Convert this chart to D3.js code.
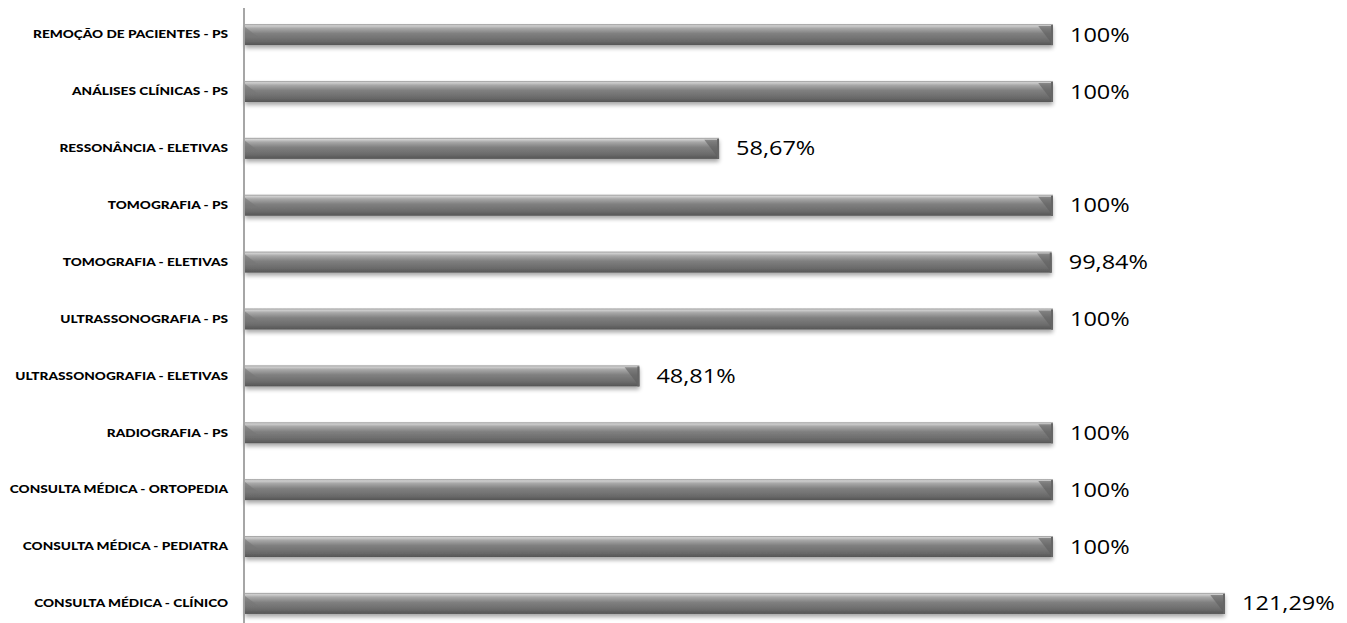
<!DOCTYPE html>
<html><head><meta charset="utf-8">
<script src="https://cdn.jsdelivr.net/npm/d3@7"></script>
<style>body{margin:0;background:#fff}svg{display:block}</style>
</head><body>
<svg id="c" width="1347" height="623"></svg>
<script>
const categories = ["REMOÇÃO DE PACIENTES - PS","ANÁLISES CLÍNICAS - PS","RESSONÂNCIA - ELETIVAS","TOMOGRAFIA - PS","TOMOGRAFIA - ELETIVAS","ULTRASSONOGRAFIA - PS","ULTRASSONOGRAFIA - ELETIVAS","RADIOGRAFIA - PS","CONSULTA MÉDICA - ORTOPEDIA","CONSULTA MÉDICA - PEDIATRA","CONSULTA MÉDICA - CLÍNICO"];
const values = [100,100,58.67,100,99.84,100,48.81,100,100,100,121.29];
const valueLabels = ["100%","100%","58,67%","100%","99,84%","100%","48,81%","100%","100%","100%","121,29%"];

const svg = d3.select("#c");
const x0 = 245;
const x = d3.scaleLinear().domain([0,100]).range([x0,1053]);
const y = d3.scaleBand().domain(categories).range([7,631]).paddingInner(0.63).paddingOuter(0.3);

const defs = svg.append("defs");
const g = defs.append("linearGradient").attr("id","bg").attr("x1",0).attr("y1",0).attr("x2",0).attr("y2",1);
[[0,"#9a9a9a"],[0.08,"#cfcfcf"],[0.2,"#a8a8a8"],[0.45,"#808080"],[0.8,"#6a6a6a"],[1,"#555"]].forEach(([o,c])=>g.append("stop").attr("offset",o).attr("stop-color",c));
const sh = defs.append("filter").attr("id","sh").attr("x","-5%").attr("y","-50%").attr("width","110%").attr("height","250%");
sh.append("feGaussianBlur").attr("in","SourceAlpha").attr("stdDeviation",2).attr("result","b");
sh.append("feOffset").attr("in","b").attr("dy",3).attr("result","o");
sh.append("feComponentTransfer").attr("in","o").attr("result","o2").append("feFuncA").attr("type","linear").attr("slope",0.35);
const m = sh.append("feMerge"); m.append("feMergeNode").attr("in","o2"); m.append("feMergeNode").attr("in","SourceGraphic");

const bars = svg.append("g").selectAll("g").data(categories).join("g");
const bh = y.bandwidth();
bars.append("rect")
  .attr("x", x0).attr("y", d=>y(d)).attr("height", bh)
  .attr("width", (d,i)=>x(values[i])-x0)
  .attr("fill","url(#bg)").attr("filter","url(#sh)");
bars.append("path").attr("d",(d,i)=>{const xe=x(values[i]), yt=y(d); return `M${xe-bh*0.7},${yt+2}L${xe},${yt+2}L${xe},${yt+bh}Z`;})
  .attr("fill","#5e5e5e").attr("opacity",0.6);
bars.append("rect").attr("x",(d,i)=>x(values[i])-2).attr("y",d=>y(d)+1).attr("width",2).attr("height",bh-1).attr("fill","#666");
bars.append("path").attr("d",d=>{const yt=y(d); return `M${x0},${yt+3}L${x0+bh*0.6},${yt+bh*0.6}L${x0},${yt+bh*0.6}Z`;})
  .attr("fill","#777").attr("opacity",0.6);

bars.append("text")
  .attr("transform",(d,i)=>`translate(${x(values[i])+17},${y(d)+bh/2}) scale(1.2,1)`)
  .attr("dy","0.36em")
  .attr("font-family","Open Sans, sans-serif").attr("font-size",19.6).attr("fill","#000")
  .text((d,i)=>valueLabels[i]);

const ax = svg.append("g").attr("transform",`translate(${x0-1},0)`).call(d3.axisLeft(y).tickSize(0).tickPadding(14));
ax.select(".domain").remove();
ax.selectAll("text").attr("transform","scale(1.14,1)").attr("font-family","Lato, sans-serif").attr("font-weight","900").attr("font-size",12).attr("fill","#000");
svg.append("line").attr("x1",x0-1).attr("x2",x0-1).attr("y1",8).attr("y2",623).attr("stroke","#888").attr("stroke-width",1.5);
</script>
</body></html>
